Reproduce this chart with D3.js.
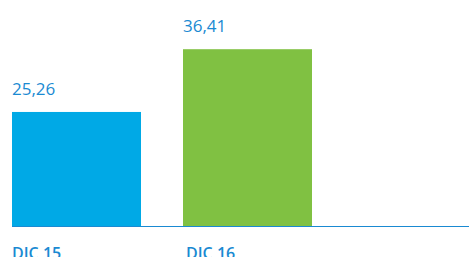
<!DOCTYPE html>
<html>
<head>
    <style>
        body { margin: 0; padding: 0; background: #fff; }
        svg { display: block; }
        text { font-family: "Open Sans", sans-serif; fill: #1a8ad2; }
    </style>
</head>
<body>
    <div id="chart"></div>

    <script src="https://d3js.org/d3.v7.min.js"></script>
    <script>
        const categories = ['DIC 15', 'DIC 16'];
        const values = [25.26, 36.41];
        const labels = ['25,26', '36,41'];
        const colors = ['#00a9e6', '#80c142'];

        const width = 469, height = 257;
        const svg = d3.select('#chart').append('svg')
            .attr('width', width)
            .attr('height', height);

        // 129px bars, 42px gap
        const x = d3.scaleBand()
            .domain(categories)
            .range([12, 312])
            .paddingInner(42 / 171)
            .paddingOuter(0)
            .align(0);

        const y = d3.scaleLinear()
            .domain([5, 40])
            .range([226, 29]);

        svg.selectAll('rect.bar')
            .data(categories)
            .enter().append('rect')
            .attr('class', 'bar')
            .attr('x', d => x(d))
            .attr('width', x.bandwidth())
            .attr('y', (d, i) => y(values[i]))
            .attr('height', (d, i) => y(5) - y(values[i]))
            .attr('fill', (d, i) => colors[i]);

        // value labels
        svg.selectAll('text.val')
            .data(categories)
            .enter().append('text')
            .attr('class', 'val')
            .attr('x', d => x(d))
            .attr('y', (d, i) => y(values[i]) - 17)
            .style('font-size', '17px')
            .style('font-weight', 500)
            .text((d, i) => labels[i]);

        // baseline
        svg.append('line')
            .attr('x1', 12).attr('x2', width)
            .attr('y1', 226.5).attr('y2', 226.5)
            .attr('stroke', '#1a8ad2')
            .attr('stroke-width', 1.2);

        // category labels (bottom is clipped in the original too)
        svg.selectAll('text.cat')
            .data(categories)
            .enter().append('text')
            .attr('class', 'cat')
            .attr('x', d => x(d) + (d === 'DIC 16' ? 3 : 0))
            .attr('y', 259)
            .style('font-size', '16px')
            .style('font-weight', 600)
            .text(d => d);
    </script>
</body>
</html>
